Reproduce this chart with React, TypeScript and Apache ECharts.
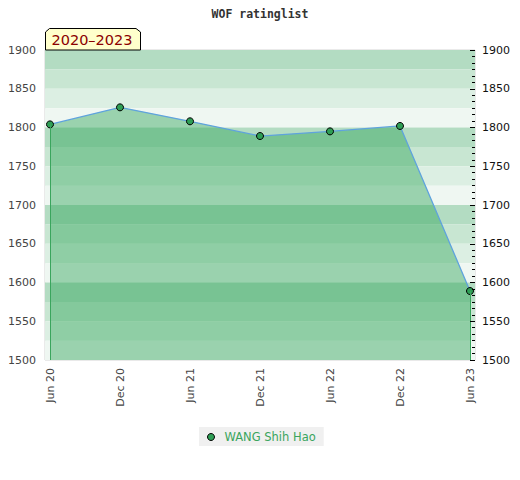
import React, { useEffect, useRef } from "react";
import * as echarts from "echarts";

const categories = ["Jun 20", "Dec 20", "Jun 21", "Dec 21", "Jun 22", "Dec 22", "Jun 23"];
const ratings = [1804, 1826, 1808, 1789, 1795, 1802, 1589];
const seriesName = "WANG Shih Hao";
const chartTitle = "WOF ratinglist";
const periodLabel = "2020–2023";
const yMin = 1500;
const yMax = 1900;
const yInterval = 50;
const stripeStep = 25;
const stripeColors = ["#b3dcc2", "#c8e6d2", "#dcefe3", "#eff7f2"];

export default function App() {
  const ref = useRef<HTMLDivElement>(null);
  useEffect(() => {
    if (!ref.current) return;
    const chart = echarts.init(ref.current, undefined, { renderer: "svg" });
    const stripes: any[] = [];
    let i = 0;
    for (let v = yMax; v > yMin; v -= stripeStep) {
      stripes.push([
        { yAxis: v, itemStyle: { color: stripeColors[i % 4], opacity: 1 } },
        { yAxis: v - stripeStep },
      ]);
      i++;
    }
    const last = categories.length - 1;
    const font = "DejaVu Sans";
    const fmt = (v: number) => String(v);
    chart.setOption({
      animation: false,
      backgroundColor: "#ffffff",
      title: {
        text: chartTitle,
        left: "center",
        top: 3,
        textStyle: { fontFamily: "DejaVu Sans Mono", fontSize: 11.5, fontWeight: "bold", color: "#333" },
      },
      grid: [
        { left: 50, right: 50, top: 50, bottom: 120 },
        { left: 45, right: 45, top: 50, bottom: 120, show: true, borderColor: "#d4d4d4", borderWidth: 1, backgroundColor: "transparent" },
      ],
      xAxis: [
        {
          type: "category",
          gridIndex: 0,
          data: categories,
          boundaryGap: false,
          axisLine: { show: false },
          axisTick: { show: false },
          splitLine: { show: false },
          axisLabel: { rotate: 90, margin: 8, color: "#444", fontSize: 11, fontFamily: font },
        },
        { type: "value", gridIndex: 1, min: 0, max: 1, show: false },
      ],
      yAxis: [
        { type: "value", gridIndex: 0, min: yMin, max: yMax, interval: yInterval, show: false },
        {
          type: "value",
          gridIndex: 1,
          position: "left",
          min: yMin,
          max: yMax,
          interval: yInterval,
          axisLine: { show: false },
          axisTick: { show: false },
          splitLine: { show: false },
          axisLabel: { margin: 9, color: "#444", fontSize: 11, fontFamily: font, formatter: fmt },
        },
        {
          type: "value",
          gridIndex: 1,
          position: "right",
          min: yMin,
          max: yMax,
          interval: yInterval,
          z: 20,
          axisLine: { show: false },
          axisTick: { show: true, inside: true, length: 5, lineStyle: { color: "#000", width: 1 } },
          minorTick: { show: true, splitNumber: 6, length: 3, lineStyle: { color: "#000", width: 1 } },
          splitLine: { show: false },
          axisLabel: { margin: 7, color: "#111", fontSize: 11, fontFamily: font, formatter: fmt },
        },
      ],
      legend: {
        left: 199,
        top: 427,
        backgroundColor: "#f0f0f0",
        padding: [4, 8, 3, 8],
        itemWidth: 7,
        itemHeight: 7,
        data: [{ name: seriesName, icon: "circle", itemStyle: { color: "#2e9e55", borderColor: "#000", borderWidth: 1 } }],
        textStyle: { color: "#3aa55d", fontSize: 11.5, fontFamily: font, padding: [0, 0, 0, 5] },
      },
      series: [
        {
          type: "line",
          name: "bg",
          xAxisIndex: 1,
          yAxisIndex: 1,
          data: [[0, yMin]],
          symbol: "none",
          lineStyle: { opacity: 0 },
          silent: true,
          z: 0,
          markArea: { silent: true, data: stripes },
        },
        {
          type: "line",
          name: seriesName,
          xAxisIndex: 0,
          yAxisIndex: 0,
          data: ratings,
          symbol: "circle",
          symbolSize: 7,
          itemStyle: { color: "#2e9e55", borderColor: "#000", borderWidth: 1 },
          lineStyle: { color: "#5fa3dd", width: 1.3 },
          areaStyle: { color: "rgba(46,165,86,0.44)", opacity: 1, origin: "start" },
          z: 3,
          markLine: {
            silent: true,
            symbol: "none",
            label: { show: false },
            lineStyle: { color: "#3aa55d", width: 1, type: "solid" },
            data: [
              [{ coord: [0, ratings[0]] }, { coord: [0, yMin] }],
              [{ coord: [last, ratings[last]] }, { coord: [last, yMin] }],
            ],
          },
        },
      ],
      graphic: [
        {
          type: "polygon",
          z: 100,
          shape: { points: [[45.5, 50], [45.5, 32], [49.5, 28.5], [136, 28.5], [140.5, 32], [140.5, 50]] },
          style: { fill: "#ffffcc", stroke: "#000", lineWidth: 1 },
        },
        {
          type: "text",
          z: 101,
          x: 92,
          y: 40,
          style: { text: periodLabel, fill: "#8b0000", fontSize: 14.5, fontFamily: font, align: "center", verticalAlign: "middle" },
        },
      ],
    });
    return () => chart.dispose();
  }, []);
  return <div ref={ref} style={{ width: 520, height: 480, position: "absolute", left: 0, top: 0 }} />;
}
